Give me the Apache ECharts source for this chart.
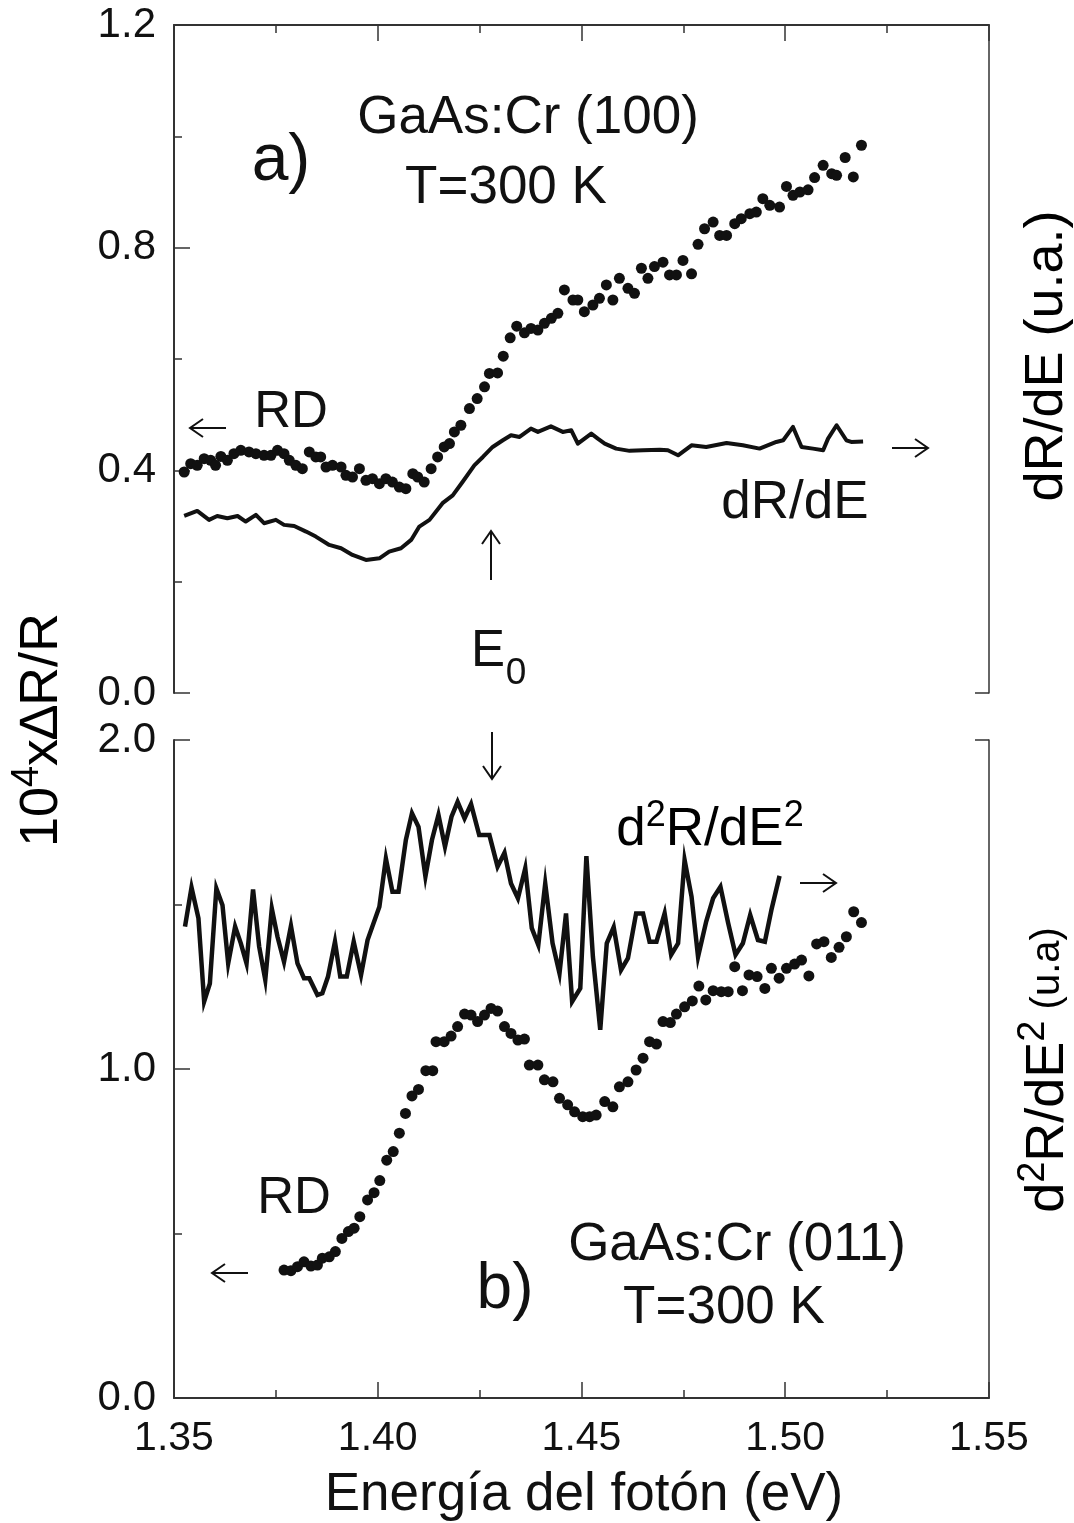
<!DOCTYPE html>
<html lang="es">
<head>
<meta charset="UTF-8">
<title>GaAs:Cr RD</title>
<script src="https://cdn.jsdelivr.net/npm/echarts@6/dist/echarts.min.js"></script>
<style>
  html, body { margin: 0; padding: 0; background: #fff; }
  #chart { width: 1074px; height: 1523px; }
</style>
</head>
<body>
<div id="chart"></div>
<script>
// panel a) GaAs:Cr (100) - RD dots (left axis)
var rdTopE = [1.3525,1.3541,1.3557,1.3574,1.359,1.3602,1.3615,1.3631,1.3647,1.3664,
  1.3684,1.3701,1.3721,1.3738,1.3754,1.377,1.3783,1.3799,1.3815,1.3832,
  1.3848,1.386,1.3873,1.3889,1.391,1.3922,1.3938,1.3955,1.3971,1.3987,
  1.4004,1.402,1.4036,1.4053,1.4069,1.4086,1.4098,1.4114,1.4131,1.4147,
  1.4163,1.4176,1.4188,1.4204,1.4225,1.4244,1.4262,1.4274,1.4294,1.4308,
  1.4325,1.4341,1.436,1.4376,1.4393,1.4409,1.4426,1.4442,1.4458,1.4479,
  1.4491,1.4507,1.4528,1.4544,1.4561,1.4577,1.4593,1.4614,1.463,1.4647,
  1.4663,1.4679,1.47,1.4716,1.4733,1.4749,1.477,1.4786,1.4802,1.4823,
  1.4839,1.4856,1.4876,1.4892,1.4913,1.4929,1.4945,1.4962,1.4986,1.5003,
  1.5019,1.5036,1.5056,1.5072,1.5093,1.5114,1.5126,1.5147,1.5167,1.5187];
var rdTopY = [0.397,0.412,0.409,0.421,0.418,0.409,0.425,0.418,0.430,0.436,
  0.433,0.430,0.427,0.427,0.436,0.430,0.418,0.409,0.403,0.433,
  0.424,0.424,0.406,0.409,0.406,0.391,0.388,0.403,0.382,0.385,
  0.376,0.385,0.379,0.370,0.367,0.394,0.388,0.379,0.403,0.424,
  0.442,0.448,0.469,0.481,0.511,0.529,0.550,0.574,0.575,0.605,
  0.638,0.659,0.647,0.655,0.652,0.664,0.673,0.682,0.724,0.706,
  0.706,0.685,0.697,0.709,0.733,0.706,0.745,0.727,0.718,0.763,
  0.745,0.766,0.774,0.751,0.751,0.777,0.753,0.806,0.834,0.846,
  0.822,0.822,0.843,0.852,0.861,0.864,0.888,0.876,0.873,0.910,
  0.894,0.900,0.904,0.926,0.948,0.933,0.930,0.962,0.927,0.984];

// panel a) dR/dE line (right axis, u.a.)
var derTopE = [1.3525,1.3557,1.3586,1.3606,1.3631,1.3656,1.3676,1.3701,1.3721,1.375,
  1.377,1.3795,1.3824,1.3848,1.3881,1.391,1.3938,1.3971,1.4004,1.4028,
  1.4057,1.4082,1.4102,1.4127,1.4159,1.4184,1.4208,1.4237,1.4258,1.4282,
  1.4307,1.4327,1.4348,1.4376,1.4393,1.4425,1.4454,1.4475,1.4491,1.4524,
  1.454,1.4557,1.4585,1.4618,1.4651,1.4692,1.4712,1.4737,1.477,1.4806,
  1.4856,1.4896,1.4937,1.4978,1.4995,1.5019,1.504,1.5068,1.5093,1.5105,
  1.5126,1.515,1.5162,1.5191];
var derTopY = [0.318,0.327,0.311,0.318,0.314,0.318,0.308,0.320,0.305,0.311,
  0.302,0.300,0.290,0.281,0.266,0.260,0.248,0.239,0.242,0.254,
  0.260,0.275,0.299,0.311,0.341,0.355,0.379,0.409,0.424,0.442,
  0.454,0.463,0.460,0.475,0.469,0.479,0.469,0.472,0.448,0.466,
  0.457,0.448,0.439,0.435,0.436,0.437,0.436,0.427,0.445,0.442,
  0.449,0.445,0.439,0.451,0.454,0.478,0.442,0.439,0.436,0.457,
  0.481,0.454,0.451,0.452];

// panel b) GaAs:Cr (011) - d2R/dE2 line (right axis, u.a.)
var der2BotE = [1.3527,1.3543,1.356,1.3574,1.3588,1.3604,1.3619,1.3633,1.365,1.3664,
  1.3678,1.3694,1.3709,1.3724,1.374,1.3754,1.377,1.3787,1.3803,1.3819,
  1.3832,1.3852,1.3864,1.3878,1.3895,1.3908,1.3924,1.3941,1.3959,1.3975,
  1.4004,1.402,1.4036,1.4051,1.4069,1.4084,1.41,1.4117,1.4133,1.4149,
  1.4165,1.4181,1.4196,1.4213,1.4229,1.4249,1.4274,1.4294,1.4311,1.4327,
  1.4344,1.4362,1.4378,1.4394,1.4411,1.4429,1.4446,1.4462,1.4477,1.4497,
  1.4512,1.4528,1.4546,1.4562,1.4579,1.4597,1.4614,1.4634,1.4651,1.4667,
  1.4684,1.4704,1.472,1.4737,1.4753,1.477,1.4786,1.4806,1.4823,1.4841,
  1.486,1.4878,1.4896,1.4914,1.4933,1.495,1.4966,1.4986];
var der2BotY = [1.433,1.552,1.458,1.205,1.260,1.549,1.498,1.321,1.433,1.382,
  1.321,1.546,1.372,1.271,1.488,1.402,1.326,1.435,1.321,1.276,
  1.276,1.225,1.230,1.281,1.387,1.281,1.281,1.387,1.286,1.392,
  1.493,1.640,1.539,1.539,1.696,1.777,1.736,1.585,1.696,1.772,
  1.676,1.767,1.812,1.762,1.805,1.711,1.711,1.615,1.657,1.564,
  1.519,1.610,1.428,1.377,1.564,1.382,1.291,1.473,1.205,1.245,
  1.647,1.341,1.119,1.382,1.431,1.301,1.337,1.473,1.473,1.387,
  1.387,1.473,1.347,1.382,1.635,1.524,1.341,1.448,1.519,1.554,
  1.443,1.347,1.382,1.468,1.392,1.387,1.483,1.587];

// panel b) RD dots (left axis)
var rdBotE = [1.377,1.3787,1.3803,1.3819,1.3836,1.3852,1.3864,1.3881,1.3896,1.3912,
  1.3928,1.3942,1.3956,1.3975,1.3991,1.4005,1.4022,1.4038,1.4053,1.4068,
  1.4084,1.41,1.4118,1.4135,1.4143,1.4163,1.418,1.4196,1.4213,1.4229,
  1.4245,1.4262,1.4278,1.4294,1.4311,1.4327,1.4344,1.436,1.4372,1.4393,
  1.4409,1.443,1.4446,1.4466,1.4483,1.4503,1.452,1.4536,1.4557,1.4577,
  1.4593,1.4614,1.4634,1.4651,1.4667,1.4684,1.47,1.4718,1.4733,1.4753,
  1.4772,1.4788,1.4805,1.4823,1.4843,1.486,1.4876,1.4895,1.4911,1.4931,
  1.495,1.4966,1.4985,1.5003,1.5023,1.504,1.5058,1.5077,1.5095,1.5113,
  1.5132,1.515,1.5168,1.5187];
var rdBotY = [0.389,0.387,0.399,0.414,0.401,0.404,0.425,0.429,0.445,0.485,
  0.506,0.516,0.551,0.602,0.624,0.661,0.723,0.749,0.805,0.865,
  0.918,0.938,0.995,0.995,1.083,1.083,1.100,1.129,1.167,1.164,
  1.144,1.164,1.184,1.176,1.129,1.108,1.088,1.091,1.012,1.012,
  0.967,0.961,0.911,0.891,0.870,0.855,0.855,0.860,0.901,0.885,
  0.946,0.961,0.997,1.033,1.083,1.076,1.144,1.141,1.167,1.189,
  1.207,1.252,1.210,1.238,1.235,1.235,1.311,1.238,1.286,1.281,
  1.245,1.306,1.276,1.306,1.319,1.331,1.283,1.380,1.387,1.339,
  1.370,1.402,1.478,1.445];

// axis ranges / tick steps
var xTicks = [1.35, 1.55, 0.05];
var yTopTicks = [0, 1.2, 0.4];
var yBotTicks = [0, 2.0, 1.0];

function pairs(xs, ys) {
    return xs.map(function (x, i) { return [x, ys[i]]; });
}

var FONT = 'Liberation Sans, Arial, Helvetica, sans-serif';
var INK = '#111';
var AXIS = '#333';

var chart = echarts.init(document.getElementById('chart'), null, { renderer: 'canvas' });

function xAxisCfg(grid, pos, labels) {
    return {
        gridIndex: grid, type: 'value', position: pos,
        min: xTicks[0], max: xTicks[1], interval: xTicks[2],
        axisLine: { show: true, onZero: false, lineStyle: { color: AXIS, width: 2 } },
        axisTick: { show: true, inside: true, length: 16, lineStyle: { color: AXIS, width: 1.5 } },
        minorTick: { show: true, splitNumber: 2, length: 8, lineStyle: { color: AXIS, width: 1.5 } },
        splitLine: { show: false },
        axisLabel: {
            show: labels, fontSize: 41, fontFamily: FONT, color: INK, margin: 20,
            showMinLabel: true, showMaxLabel: true,
            formatter: function (v) { return v.toFixed(2); }
        }
    };
}

function yLeftCfg(grid, t) {
    return {
        gridIndex: grid, type: 'value', position: 'left',
        min: t[0], max: t[1], interval: t[2],
        axisLine: { show: true, onZero: false, lineStyle: { color: AXIS, width: 2 } },
        axisTick: { show: true, inside: true, length: 16, lineStyle: { color: AXIS, width: 1.5 } },
        minorTick: { show: true, splitNumber: 2, length: 8, lineStyle: { color: AXIS, width: 1.5 } },
        splitLine: { show: false },
        axisLabel: {
            fontSize: 42, fontFamily: FONT, color: INK, margin: 18,
            showMinLabel: true, showMaxLabel: true,
            formatter: function (v) { return v.toFixed(1); }
        }
    };
}

function yRightCfg(grid, t) {
    return {
        gridIndex: grid, type: 'value', position: 'right',
        min: t[0], max: t[1], interval: t[1] - t[0],
        axisLine: { show: true, onZero: false, lineStyle: { color: AXIS, width: 1.5 } },
        axisTick: { show: true, inside: true, length: 14, lineStyle: { color: AXIS, width: 1.5 } },
        splitLine: { show: false },
        axisLabel: { show: false }
    };
}

function arrow(x1, y1, x2, y2) {
    var dx = x2 - x1, dy = y2 - y1, len = Math.sqrt(dx * dx + dy * dy);
    var ux = dx / len, uy = dy / len, h = 13, w = 9;
    var bx = x2 - ux * h, by = y2 - uy * h;
    var st = { stroke: INK, lineWidth: 2, fill: null };
    return [
        { type: 'line', shape: { x1: x1, y1: y1, x2: x2, y2: y2 }, style: st },
        { type: 'polyline', shape: { points: [[bx - uy * w, by + ux * w], [x2, y2], [bx + uy * w, by - ux * w]] }, style: st }
    ];
}

function label(txt, x, y, size) {
    return {
        type: 'text', x: x, y: y,
        style: { text: txt, fontSize: size, fontFamily: FONT, fill: INK, align: 'center', verticalAlign: 'middle' }
    };
}

// rich styles for super-scripted labels
var richIn = {
    n: { fontSize: 53, lineHeight: 64, fontFamily: FONT, color: INK },
    s: { fontSize: 36, lineHeight: 38, fontFamily: FONT, color: INK, verticalAlign: 'top' }
};
var richAxis = {
    n: { fontSize: 54, lineHeight: 66, fontFamily: FONT, color: INK },
    s: { fontSize: 38, lineHeight: 40, fontFamily: FONT, color: INK, verticalAlign: 'top' },
    u: { fontSize: 40, lineHeight: 66, fontFamily: FONT, color: INK }
};

var graphics = [
    label('a)', 281, 162, 66),
    label('GaAs:Cr (100)', 528, 118, 53),
    label('T=300 K', 506, 188, 53),
    label('RD', 291, 413, 51),
    label('dR/dE', 795, 503, 53),
    label('E', 488, 652, 51),
    label('0', 516, 674, 37),
    {
        type: 'text', x: 710, y: 830,
        style: { text: '{n|d}{s|2}{n|R/dE}{s|2}', rich: richIn, align: 'center', verticalAlign: 'middle' }
    },
    label('RD', 294, 1199, 51),
    label('b)', 505, 1290, 64),
    label('GaAs:Cr (011)', 737, 1245, 53),
    label('T=300 K', 724, 1308, 53),
    label('Energía del fotón (eV)', 584, 1495, 53),
    {
        type: 'text', x: 42, y: 730, rotation: Math.PI / 2,
        style: { text: '{n|10}{s|4}{n|x\u2206R/R}', rich: richAxis, align: 'center', verticalAlign: 'middle' }
    },
    {
        type: 'text', x: 1047, y: 356, rotation: Math.PI / 2,
        style: { text: '{n|dR/dE (u.a.)}', rich: richAxis, align: 'center', verticalAlign: 'middle' }
    },
    {
        type: 'text', x: 1048, y: 1070, rotation: Math.PI / 2,
        style: { text: '{n|d}{s|2}{n|R/dE}{s|2}{u| (u.a)}', rich: richAxis, align: 'center', verticalAlign: 'middle' }
    }
].concat(
    arrow(226, 428, 190, 428),
    arrow(892, 448, 928, 448),
    arrow(491, 580, 491, 531),
    arrow(492, 732, 492, 779),
    arrow(800, 883, 836, 883),
    arrow(248, 1273, 212, 1273)
);

var option = {
    backgroundColor: '#fff',
    animation: false,
    grid: [
        { left: 174, right: 85, top: 25, height: 668, outerBoundsMode: 'none' },
        { left: 174, right: 85, top: 740, height: 658, outerBoundsMode: 'none' }
    ],
    xAxis: [xAxisCfg(0, 'top', false), xAxisCfg(1, 'bottom', true)],
    yAxis: [yLeftCfg(0, yTopTicks), yRightCfg(0, yTopTicks), yLeftCfg(1, yBotTicks), yRightCfg(1, yBotTicks)],
    series: [
        {
            name: 'RD (100)', type: 'scatter', xAxisIndex: 0, yAxisIndex: 0,
            data: pairs(rdTopE, rdTopY), symbol: 'circle', symbolSize: 11,
            itemStyle: { color: INK, opacity: 1 }, emphasis: { disabled: true }
        },
        {
            name: 'dR/dE', type: 'line', xAxisIndex: 0, yAxisIndex: 1,
            data: pairs(derTopE, derTopY), showSymbol: false, symbol: 'none',
            lineStyle: { color: INK, width: 4, join: 'round' }, emphasis: { disabled: true }
        },
        {
            name: 'd2R/dE2', type: 'line', xAxisIndex: 1, yAxisIndex: 3,
            data: pairs(der2BotE, der2BotY), showSymbol: false, symbol: 'none',
            lineStyle: { color: INK, width: 4.5, join: 'miter' }, emphasis: { disabled: true }
        },
        {
            name: 'RD (011)', type: 'scatter', xAxisIndex: 1, yAxisIndex: 2,
            data: pairs(rdBotE, rdBotY), symbol: 'circle', symbolSize: 11,
            itemStyle: { color: INK, opacity: 1 }, emphasis: { disabled: true }
        }
    ],
    graphic: graphics
};

chart.setOption(option);
</script>
</body>
</html>
